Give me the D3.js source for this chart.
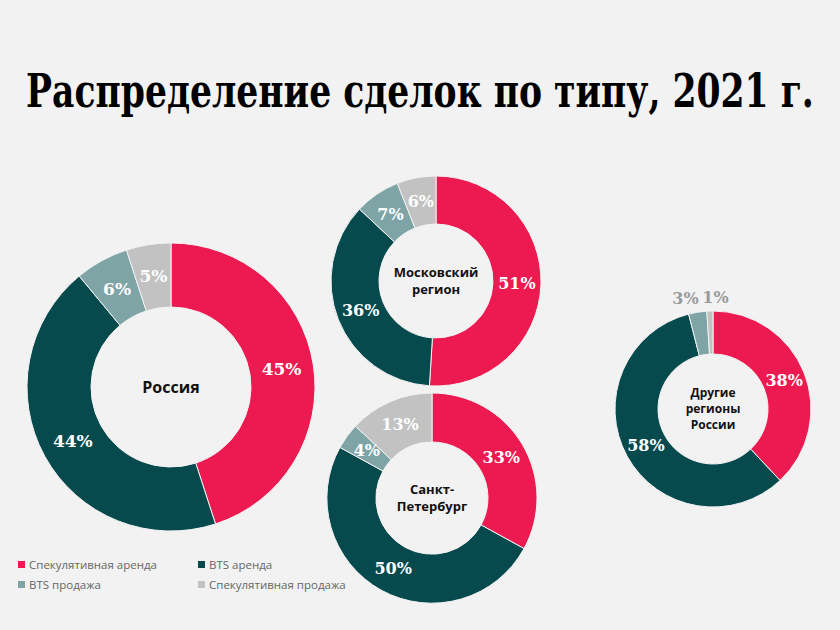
<!DOCTYPE html>
<html>
<head>
<meta charset="utf-8">
<script src="https://cdn.jsdelivr.net/npm/d3@7"></script>
<style>
  body { margin: 0; background: #f2f2f2; }
</style>
</head>
<body>
<div id="chart"></div>
<script>
var w = 840, h = 630;

// data
var categories = ["Спекулятивная аренда", "BTS аренда", "BTS продажа", "Спекулятивная продажа"];
var colors = ["#ec1a50", "#074a4e", "#7fa4a6", "#c2c2c2"];
var regions = ["Россия", "Московский регион", "Санкт-Петербург", "Другие регионы России"];
var russia = [45, 44, 6, 5];
var moscow = [51, 36, 7, 6];
var spb = [33, 50, 4, 13];
var other = [38, 58, 3, 1];

// layout for each donut
var donuts = [
  {values: russia, cx: 171, cy: 387, r: 144, ir: 80, label: ["Россия"], fs: 16, pfs: 17},
  {values: moscow, cx: 436, cy: 281, r: 105, ir: 57, label: ["Московский", "регион"], fs: 13, pfs: 16},
  {values: spb, cx: 432, cy: 498, r: 105, ir: 56, label: ["Санкт-", "Петербург"], fs: 13, pfs: 16},
  {values: other, cx: 713, cy: 409, r: 98, ir: 55, label: ["Другие", "регионы", "России"], fs: 12, pfs: 16, outside: true}
];

var svg = d3.select("#chart").append("svg")
    .attr("width", w)
    .attr("height", h)
    .style("background", "#f2f2f2");

// title, squeezed horizontally to the reference width
var title = svg.append("text")
    .attr("text-anchor", "middle")
    .style("font-family", "'DejaVu Serif', serif")
    .style("font-weight", "bold")
    .style("font-size", "46px")
    .attr("fill", "#000")
    .text("Распределение сделок по типу, 2021 г.");
var tw = title.node().getComputedTextLength();
title.attr("transform", "translate(" + (w / 2) + ",107) scale(" + (788 / tw) + ",1)");

var pie = d3.pie().sort(null).value(function(d) { return d; });

donuts.forEach(function(dn) {
  var g = svg.append("g").attr("transform", "translate(" + dn.cx + "," + dn.cy + ")");
  var arc = d3.arc().innerRadius(dn.ir).outerRadius(dn.r);
  var mid = d3.arc().innerRadius((dn.ir + dn.r) / 2).outerRadius((dn.ir + dn.r) / 2);
  var arcs = pie(dn.values);

  g.selectAll("path")
    .data(arcs)
    .enter().append("path")
      .attr("d", arc)
      .attr("fill", function(d, i) { return colors[i]; })
      .attr("stroke", "#f2f2f2")
      .attr("stroke-width", 1);

  g.selectAll("text.pct")
    .data(arcs)
    .enter().append("text")
      .attr("class", "pct")
      .attr("transform", function(d, i) {
        if (dn.outside && i >= 2) {
          var a = (d.startAngle + d.endAngle) / 2;
          var rr = dn.r + 14;
          var dx = i == 2 ? -10 : 6;
          return "translate(" + (Math.sin(a) * rr + dx) + "," + (-Math.cos(a) * rr) + ")";
        }
        return "translate(" + mid.centroid(d) + ")";
      })
      .attr("text-anchor", "middle")
      .attr("dy", "0.35em")
      .attr("fill", function(d, i) { return (dn.outside && i >= 2) ? "#9a9a9a" : "#fff"; })
      .style("font-family", "'DejaVu Serif', serif")
      .style("font-weight", "bold")
      .style("font-size", dn.pfs + "px")
      .text(function(d) { return d.data + "%"; });

  var lh = dn.fs * 1.35;
  g.append("text")
      .attr("text-anchor", "middle")
      .style("font-family", "'Open Sans', sans-serif")
      .style("font-weight", "bold")
      .style("font-size", dn.fs + "px")
      .attr("fill", "#111")
    .selectAll("tspan")
    .data(dn.label)
    .enter().append("tspan")
      .attr("x", 0)
      .attr("y", function(d, i) { return (i - (dn.label.length - 1) / 2) * lh; })
      .attr("dy", "0.35em")
      .text(function(d) { return d; });
});

// legend
var legend = svg.append("g").attr("transform", "translate(18,565)");
var item = legend.selectAll("g")
    .data(categories)
    .enter().append("g")
    .attr("transform", function(d, i) { return "translate(" + (i % 2) * 180 + "," + Math.floor(i / 2) * 20 + ")"; });
item.append("rect")
    .attr("x", 0).attr("y", -4)
    .attr("width", 7).attr("height", 7)
    .attr("fill", function(d, i) { return colors[i]; });
item.append("text")
    .attr("x", 11)
    .attr("dy", "0.35em")
    .style("font-family", "'Open Sans', sans-serif")
    .style("font-size", "11.5px")
    .attr("fill", "#666")
    .text(function(d) { return d; });
</script>
</body>
</html>
